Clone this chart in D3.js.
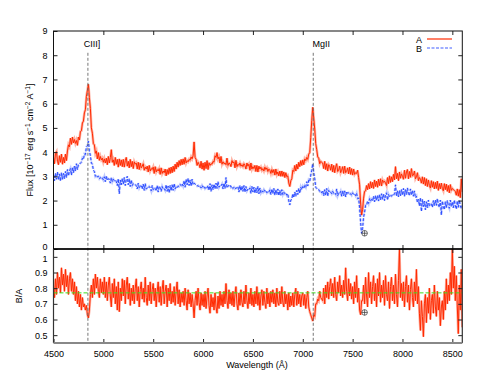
<!DOCTYPE html>
<html><head><meta charset="utf-8">
<script src="https://cdn.jsdelivr.net/npm/d3@7"></script>
<style>
body{margin:0;background:#fff;}
svg{display:block;font-family:"Liberation Sans",Arial,sans-serif;}
</style></head><body><svg id="c" width="491" height="379"></svg>
<script>
const wlStart = 4500, wlStep = 10;
const fluxA = [
3.80,3.52,3.95,4.02,3.62,3.48,3.85,3.58,3.92,3.50,
3.78,3.55,3.92,3.65,4.05,4.30,4.22,4.58,4.32,4.62,
4.38,4.52,4.36,4.48,4.28,4.62,4.50,4.85,4.88,5.20,
5.28,5.62,5.75,6.30,6.55,6.80,6.25,5.80,5.00,4.78,
4.35,4.30,3.95,4.05,3.72,3.98,3.66,3.82,3.68,3.75,
3.58,3.72,3.55,3.75,3.48,3.82,3.55,3.78,4.10,3.58,
3.68,3.45,3.78,3.50,3.70,3.38,3.72,3.45,3.68,3.40,
3.70,3.38,3.65,3.78,3.42,3.62,3.35,3.70,3.40,3.62,
3.32,3.60,3.50,3.55,3.30,3.58,3.28,3.55,3.35,3.42,
3.52,3.25,3.38,3.30,3.42,3.18,3.45,3.22,3.32,3.28,
3.38,3.12,3.40,3.18,3.28,3.22,3.32,3.08,3.35,3.12,
3.22,3.15,3.30,3.02,3.28,3.08,3.35,3.12,3.38,3.15,
3.42,3.20,3.50,3.30,3.58,3.38,3.65,3.45,3.70,3.48,
3.72,3.50,3.78,3.55,3.65,3.60,3.70,3.66,3.80,3.72,
3.85,4.42,3.78,3.70,3.45,3.58,3.50,3.35,3.62,3.30,
3.55,3.25,3.58,3.32,3.65,3.28,3.56,3.45,3.52,3.50,
3.62,3.58,3.85,3.78,3.98,3.72,3.80,3.55,3.82,3.50,
3.60,3.52,3.55,3.48,3.75,3.45,3.55,3.52,3.40,3.65,
3.55,3.60,3.35,3.66,3.40,3.50,3.45,3.55,3.42,3.48,
3.40,3.52,3.45,3.30,3.55,3.42,3.50,3.25,3.55,3.30,
3.40,3.32,3.45,3.20,3.45,3.18,3.42,3.30,3.38,3.25,
3.32,3.22,3.38,3.28,3.35,3.20,3.30,3.25,3.12,3.28,
3.15,3.28,3.05,3.30,3.08,3.18,3.02,3.22,3.00,3.22,
3.00,3.18,2.95,3.15,2.98,3.02,2.72,2.58,2.82,2.90,
3.25,3.20,3.45,3.22,3.50,3.30,3.58,3.40,3.65,3.45,
3.68,3.48,3.72,3.65,3.78,3.70,3.92,3.98,4.60,5.30,
5.85,5.40,4.95,4.35,4.10,3.80,3.75,3.52,3.62,3.58,
3.55,3.32,3.62,3.28,3.52,3.22,3.48,3.42,3.25,3.50,
3.18,3.45,3.15,3.38,3.52,3.20,3.25,3.42,3.15,3.25,
3.40,3.12,3.42,3.15,3.20,3.35,3.10,3.38,3.08,3.32,
3.05,3.30,3.08,3.15,3.12,3.25,2.95,2.65,1.90,1.40,
1.62,2.10,2.38,2.40,2.62,2.45,2.70,2.48,2.78,2.52,
2.75,2.50,2.85,2.58,2.80,2.55,2.88,2.62,2.90,2.60,
2.85,2.75,2.80,2.72,2.62,2.95,2.70,3.02,2.75,2.98,
2.78,3.08,2.85,3.40,2.90,3.12,2.82,3.18,2.92,3.10,
3.00,2.88,3.25,2.92,3.18,3.28,2.90,3.20,2.96,3.32,
3.02,3.05,3.22,2.90,2.98,3.15,2.82,2.95,2.88,2.72,
2.98,2.68,2.95,2.62,2.90,2.58,2.85,2.62,2.52,2.82,
2.55,2.78,2.48,2.75,2.50,2.80,2.42,2.70,2.48,2.72,
2.50,2.40,2.70,2.45,2.68,2.38,2.62,2.32,2.66,2.42,
2.50,2.45,2.42,2.38,2.22,2.48,2.18,2.45,2.12,2.90,
2.35];
const fluxB = [
3.08,2.82,3.12,2.88,3.18,2.85,3.10,2.80,3.15,2.88,
3.12,2.90,3.20,2.95,3.28,3.02,3.22,3.32,3.05,3.38,
3.15,3.42,3.22,3.52,3.28,3.48,3.50,3.55,3.58,3.75,
3.70,3.92,3.90,4.22,4.25,4.45,4.05,3.85,3.55,3.50,
3.25,3.20,3.00,3.05,2.98,3.00,2.90,2.95,2.88,2.92,
2.85,2.98,2.78,3.02,2.82,2.90,2.88,2.72,2.95,2.78,
2.88,2.82,2.85,2.78,2.62,2.90,2.28,2.85,2.65,2.92,
2.68,2.95,2.62,2.88,3.00,2.65,2.90,2.58,2.85,2.62,
2.70,2.68,2.65,2.62,2.48,2.72,2.52,2.60,2.60,2.48,
2.68,2.42,2.70,2.48,2.52,2.50,2.58,2.52,2.40,2.62,
2.45,2.52,2.50,2.40,2.62,2.35,2.60,2.52,2.38,2.58,
2.48,2.50,2.42,2.65,2.38,2.60,2.32,2.62,2.40,2.65,
2.42,2.70,2.48,2.56,2.52,2.60,2.58,2.66,2.62,2.70,
2.60,2.82,2.55,2.88,2.65,2.92,2.62,2.85,2.60,2.88,
2.65,2.72,2.68,2.65,2.60,2.62,2.55,2.58,2.52,2.62,
2.55,2.60,2.50,2.56,2.52,2.62,2.42,2.70,2.38,2.65,
2.45,2.68,2.48,2.72,2.50,2.78,2.55,2.62,2.60,2.68,
2.48,2.72,2.50,2.95,2.52,2.60,2.62,2.66,2.55,2.58,
2.50,2.55,2.48,2.52,2.52,2.58,2.35,2.62,2.40,2.60,
2.38,2.62,2.35,2.58,2.40,2.48,2.45,2.52,2.30,2.58,
2.35,2.55,2.30,2.52,2.32,2.58,2.28,2.52,2.32,2.40,
2.35,2.45,2.38,2.42,2.32,2.38,2.35,2.44,2.25,2.48,
2.28,2.50,2.22,2.45,2.25,2.48,2.20,2.42,2.22,2.45,
2.25,2.35,2.28,2.32,2.22,2.28,1.98,1.82,2.02,2.05,
2.28,2.12,2.35,2.18,2.42,2.25,2.50,2.30,2.55,2.45,
2.58,2.50,2.62,2.55,2.78,2.60,2.85,2.80,3.05,3.25,
3.52,3.15,2.90,2.55,2.50,2.45,2.45,2.38,2.40,2.32,
2.42,2.20,2.45,2.22,2.50,2.18,2.42,2.32,2.35,2.28,
2.38,2.30,2.32,2.25,2.48,2.20,2.30,2.28,2.38,2.18,
2.42,2.20,2.40,2.15,2.38,2.30,2.32,2.25,2.28,2.22,
2.32,2.25,2.28,2.20,2.30,2.08,2.10,1.70,1.10,0.65,
0.85,1.32,1.52,1.80,1.80,1.98,1.88,2.08,1.98,2.05,
1.98,2.18,1.95,2.20,2.00,2.22,1.98,2.25,2.02,2.28,
2.05,2.28,2.00,2.22,2.32,2.02,2.25,2.15,2.20,2.18,
2.25,2.22,2.28,2.65,2.18,2.40,2.15,2.42,2.20,2.45,
2.22,2.50,2.18,2.45,2.25,2.52,2.28,2.20,2.48,2.22,
2.42,2.18,2.40,2.12,2.18,1.92,2.05,1.78,2.12,1.55,
2.05,1.75,1.98,1.62,1.95,1.70,2.02,1.78,1.82,1.85,
1.72,2.00,1.78,2.02,1.80,2.08,1.82,1.72,2.02,1.40,
1.98,1.75,1.62,1.95,1.70,2.00,1.78,1.68,2.02,1.75,
1.95,1.70,2.02,1.78,1.65,1.98,1.72,2.02,1.78,1.68,
1.80];
const ratioBA = [
0.82,0.74,0.86,0.76,0.90,0.80,0.87,0.77,0.93,0.82,
0.89,0.78,0.92,0.81,0.88,0.76,0.86,0.90,0.78,0.86,
0.76,0.84,0.72,0.81,0.70,0.78,0.68,0.76,0.66,0.74,
0.68,0.70,0.66,0.69,0.63,0.61,0.66,0.76,0.82,0.74,
0.86,0.76,0.89,0.80,0.87,0.78,0.74,0.86,0.77,0.84,
0.76,0.87,0.74,0.84,0.72,0.82,0.87,0.75,0.68,0.83,
0.74,0.86,0.70,0.81,0.66,0.84,0.65,0.80,0.72,0.86,
0.75,0.85,0.70,0.82,0.87,0.73,0.83,0.69,0.80,0.72,
0.82,0.70,0.80,0.86,0.72,0.81,0.68,0.79,0.84,0.73,
0.80,0.71,0.87,0.74,0.69,0.82,0.72,0.84,0.70,0.79,
0.83,0.72,0.80,0.68,0.78,0.84,0.71,0.81,0.69,0.79,
0.85,0.70,0.78,0.82,0.68,0.80,0.72,0.83,0.70,0.78,
0.71,0.81,0.69,0.78,0.84,0.70,0.79,0.68,0.77,0.71,
0.78,0.69,0.80,0.72,0.66,0.79,0.70,0.77,0.68,0.76,
0.70,0.61,0.72,0.78,0.69,0.80,0.71,0.66,0.77,0.69,
0.76,0.68,0.78,0.67,0.75,0.80,0.69,0.64,0.76,0.68,
0.74,0.66,0.77,0.68,0.64,0.75,0.67,0.78,0.69,0.76,
0.68,0.78,0.70,0.83,0.72,0.67,0.79,0.70,0.77,0.69,
0.78,0.68,0.76,0.81,0.70,0.66,0.77,0.69,0.79,0.71,
0.68,0.78,0.70,0.82,0.72,0.67,0.77,0.70,0.80,0.69,
0.76,0.68,0.78,0.70,0.81,0.69,0.77,0.66,0.75,0.79,
0.69,0.78,0.71,0.67,0.80,0.70,0.77,0.68,0.78,0.71,
0.79,0.70,0.77,0.68,0.80,0.71,0.69,0.78,0.70,0.81,
0.71,0.68,0.78,0.70,0.76,0.66,0.77,0.68,0.75,0.69,
0.77,0.68,0.76,0.80,0.69,0.78,0.70,0.76,0.68,0.75,
0.77,0.69,0.76,0.67,0.74,0.78,0.68,0.65,0.63,0.61,
0.59,0.63,0.62,0.70,0.70,0.73,0.72,0.78,0.74,0.73,
0.72,0.80,0.70,0.82,0.74,0.84,0.73,0.81,0.86,0.75,
0.83,0.74,0.87,0.76,0.72,0.84,0.77,0.88,0.75,0.82,
0.74,0.85,0.76,0.93,0.78,0.72,0.86,0.75,0.83,0.73,
0.81,0.70,0.84,0.74,0.88,0.71,0.80,0.66,0.63,0.72,
0.72,0.82,0.70,0.87,0.75,0.68,0.90,0.74,0.84,0.70,
0.81,0.88,0.72,0.83,0.68,0.86,0.75,0.90,0.71,0.82,
0.74,0.85,0.69,0.88,0.76,0.72,0.84,0.67,0.81,0.87,
0.72,0.82,0.70,0.89,0.76,0.68,0.85,1.05,0.74,0.83,
0.72,0.84,0.68,0.81,0.88,0.71,0.82,0.66,0.79,0.86,
0.74,0.68,0.84,0.72,0.92,0.70,0.81,0.64,0.53,0.72,
0.62,0.49,0.70,0.76,0.58,0.74,0.64,0.80,0.60,0.72,
0.76,0.64,0.82,0.68,0.62,0.78,0.66,0.74,0.56,0.68,
0.72,0.60,0.78,0.66,0.86,0.70,0.82,0.72,0.90,0.76,
1.05,0.80,0.94,0.72,0.88,0.68,0.51,0.82,0.66,0.92,
0.55];
const wavelengths = fluxA.map((_, i) => wlStart + i * wlStep);
const lineNames = ["CIII]", "MgII"];
const lineWl = [4845, 7105];
const meanRatio = 0.77;
const telluricWl = 7620, telluricFlux = 0.65, telluricRatio = 0.645;
const xTicks = [4500,5000,5500,6000,6500,7000,7500,8000,8500];
const yTopTicks = [0,1,2,3,4,5,6,7,8,9];
const yBotTicks = [0.5,0.6,0.7,0.8,0.9,1];
const seriesNames = ["A", "B"];

const svg = d3.select("#c");
const x = d3.scaleLinear([4500, 8600], [53.5, 462.3]);
const yT = d3.scaleLinear([0, 9], [249, 31]);
const yB = d3.scaleLinear([0.45, 1.05], [343, 249]);
const red = "#ff2a00", blue = "#2b4cff";
const fontSize = 9;

const defs = svg.append("defs");
defs.append("clipPath").attr("id","ct").append("rect").attr("x",53.5).attr("y",31).attr("width",408.8).attr("height",218);
defs.append("clipPath").attr("id","cb").append("rect").attr("x",53.5).attr("y",249).attr("width",408.8).attr("height",94);

const lineT = (arr) => d3.line().x((d,i)=>x(wavelengths[i])).y(d=>yT(d))(arr);
const lineBt = d3.line().x((d,i)=>x(wavelengths[i])).y(d=>yB(d));

const gT = svg.append("g").attr("clip-path","url(#ct)");
gT.append("path").attr("d",lineT(fluxA)).attr("fill","none").attr("stroke",red).attr("stroke-opacity",0.35).attr("stroke-width",2.6);
gT.append("path").attr("d",lineT(fluxA)).attr("fill","none").attr("stroke",red).attr("stroke-width",1);
gT.append("path").attr("d",lineT(fluxB)).attr("fill","none").attr("stroke",blue).attr("stroke-opacity",0.3).attr("stroke-width",2.4).attr("stroke-dasharray","3,1.5");
gT.append("path").attr("d",lineT(fluxB)).attr("fill","none").attr("stroke",blue).attr("stroke-width",1).attr("stroke-dasharray","3,1.5");

const gB = svg.append("g").attr("clip-path","url(#cb)");
gB.append("path").attr("d",lineBt(ratioBA)).attr("fill","none").attr("stroke",red).attr("stroke-opacity",0.35).attr("stroke-width",2.6);
gB.append("path").attr("d",lineBt(ratioBA)).attr("fill","none").attr("stroke",red).attr("stroke-width",1);

// green mean ratio line (on top of data)
svg.append("line").attr("x1",x(4500)).attr("x2",x(8600)).attr("y1",yB(meanRatio)).attr("y2",yB(meanRatio))
  .attr("stroke","#3ee01e").attr("stroke-width",1).attr("stroke-dasharray","4,2");

// vertical dashed lines (on top of data)
lineWl.forEach((w,i) => {
  svg.append("line").attr("x1",x(w)).attr("x2",x(w)).attr("y1",yT(8.1)).attr("y2",yB(0.45))
    .attr("stroke","#666").attr("stroke-width",0.9).attr("stroke-dasharray","3,2");
});
svg.append("text").attr("x",x(lineWl[0])+4).attr("y",47).attr("text-anchor","middle").attr("font-size",fontSize).text(lineNames[0]);
svg.append("text").attr("x",x(lineWl[1])+8).attr("y",47).attr("text-anchor","middle").attr("font-size",fontSize).text(lineNames[1]);

// telluric symbols
function oplus(cx, cy){
  const g = svg.append("g").attr("stroke","#333").attr("stroke-width",0.7).attr("fill","none");
  g.append("circle").attr("cx",cx).attr("cy",cy).attr("r",2.8);
  g.append("line").attr("x1",cx-2.8).attr("x2",cx+2.8).attr("y1",cy).attr("y2",cy);
  g.append("line").attr("x1",cx).attr("x2",cx).attr("y1",cy-2.8).attr("y2",cy+2.8);
}
oplus(x(telluricWl), yT(telluricFlux));
oplus(x(telluricWl), yB(telluricRatio));

// axes
function style(g){ g.selectAll(".domain").remove(); g.selectAll("line").attr("stroke","#222"); g.selectAll("text").attr("font-size",fontSize).attr("fill","#000").attr("font-family","Liberation Sans, Arial, sans-serif"); }
svg.append("g").attr("transform","translate(53.5,0)").call(d3.axisLeft(yT).tickValues(yTopTicks).tickSizeInner(-4).tickPadding(6).tickFormat(d3.format("d"))).call(style)
  .selectAll(".tick").filter(d=>d===0).select("text").attr("dy","0.1em");
svg.append("g").attr("transform","translate(462.3,0)").call(d3.axisRight(yT).tickValues(yTopTicks.slice(1,9)).tickSizeInner(-4).tickFormat("")).call(style);
svg.append("g").attr("transform","translate(0,31)").call(d3.axisTop(x).tickValues(xTicks.slice(1)).tickSizeInner(-4).tickFormat("")).call(style);
svg.append("g").attr("transform","translate(0,249)").call(d3.axisBottom(x).tickValues(xTicks.slice(1)).tickSizeInner(-4).tickFormat("")).call(style);
svg.append("g").attr("transform","translate(0,249)").call(d3.axisTop(x).tickValues(xTicks.slice(1)).tickSizeInner(-4).tickFormat("")).call(style);
svg.append("g").attr("transform","translate(53.5,0)").call(d3.axisLeft(yB).tickValues(yBotTicks).tickSizeInner(-4).tickPadding(6).tickFormat(d=>d===1?"1":d3.format(".1f")(d))).call(style)
  .selectAll(".tick").filter(d=>d===1).select("text").attr("dy","0.5em");
svg.append("g").attr("transform","translate(462.3,0)").call(d3.axisRight(yB).tickValues(yBotTicks).tickSizeInner(-4).tickFormat("")).call(style);
svg.append("g").attr("transform","translate(0,343)").call(d3.axisBottom(x).tickValues(xTicks).tickSizeInner(-4).tickPadding(8).tickFormat(d3.format("d"))).call(style);

// frames
svg.append("rect").attr("x",53.5).attr("y",31).attr("width",408.8).attr("height",218).attr("fill","none").attr("stroke","#111").attr("stroke-width",1);
svg.append("line").attr("x1",53.5).attr("x2",462.3).attr("y1",249).attr("y2",249).attr("stroke","#000").attr("stroke-width",1.6);
svg.append("line").attr("x1",53.5).attr("x2",53.5).attr("y1",249).attr("y2",343).attr("stroke","#333").attr("stroke-width",1.2);
svg.append("line").attr("x1",462.3).attr("x2",462.3).attr("y1",249).attr("y2",343).attr("stroke","#333").attr("stroke-width",1.2);
svg.append("line").attr("x1",53.5).attr("x2",462.3).attr("y1",343).attr("y2",343).attr("stroke","#888").attr("stroke-width",2);

// legend
svg.append("text").attr("x",422).attr("y",42.5).attr("text-anchor","end").attr("font-size",fontSize).text(seriesNames[0]);
svg.append("line").attr("x1",427).attr("x2",452).attr("y1",39).attr("y2",39).attr("stroke",red).attr("stroke-width",1.2);
svg.append("text").attr("x",422).attr("y",51.5).attr("text-anchor","end").attr("font-size",fontSize).text(seriesNames[1]);
svg.append("line").attr("x1",427).attr("x2",452).attr("y1",48).attr("y2",48).attr("stroke",blue).attr("stroke-opacity",0.6).attr("stroke-width",1.4).attr("stroke-dasharray","3,1.5");

// axis titles
const yl = svg.append("text").attr("transform","translate(33,140) rotate(-90)").attr("text-anchor","middle").attr("font-size",fontSize);
yl.append("tspan").text("Flux [10");
yl.append("tspan").attr("dy",-3.5).attr("font-size",6.5).text("−17");
yl.append("tspan").attr("dy",3.5).text(" erg s");
yl.append("tspan").attr("dy",-3.5).attr("font-size",6.5).text("−1");
yl.append("tspan").attr("dy",3.5).text(" cm");
yl.append("tspan").attr("dy",-3.5).attr("font-size",6.5).text("−2");
yl.append("tspan").attr("dy",3.5).text(" A");
yl.append("tspan").attr("dy",-3.5).attr("font-size",6.5).text("−1");
yl.append("tspan").attr("dy",3.5).text("]");
svg.append("text").attr("transform","translate(22,296) rotate(-90)").attr("text-anchor","middle").attr("font-size",fontSize).text("B/A");
svg.append("text").attr("x",257).attr("y",368).attr("text-anchor","middle").attr("font-size",fontSize).text("Wavelength (Å)");
</script></body></html>
